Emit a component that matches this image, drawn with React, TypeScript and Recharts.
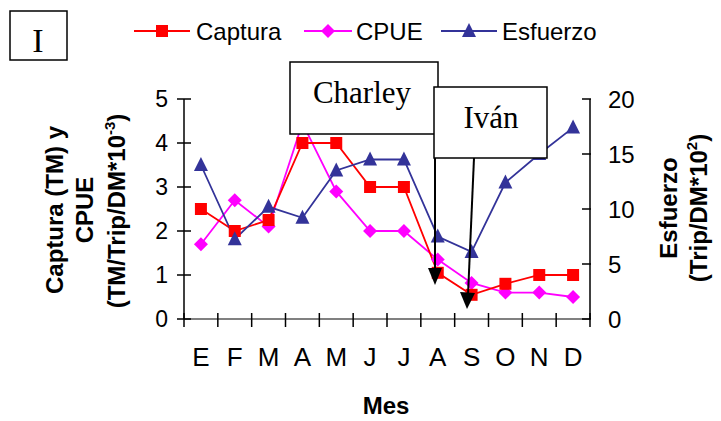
import { LineChart, Line, XAxis, YAxis, Legend } from "recharts"

const meses = ["E", "F", "M", "A", "M", "J", "J", "A", "S", "O", "N", "D"]
const captura = [2.5, 2.0, 2.25, 4.0, 4.0, 3.0, 3.0, 1.05, 0.55, 0.8, 1.0, 1.0]
const cpue = [1.7, 2.7, 2.1, 4.45, 2.9, 2.0, 2.0, 1.35, 0.82, 0.6, 0.6, 0.5]
const esfuerzo = [14.0, 7.25, 10.2, 9.2, 13.5, 14.5, 14.5, 7.5, 6.1, 12.4, 15.0, 17.4]
const leftTicks = [0, 1, 2, 3, 4, 5]
const rightTicks = [0, 5, 10, 15, 20]

const data = meses.map((mes, i) => ({
  mes,
  captura: captura[i],
  cpue: cpue[i],
  esfuerzo: esfuerzo[i],
}))

const RED = "#ff0000"
const MAGENTA = "#ff00ff"
const NAVY = "#333399"
const SANS = "'Liberation Sans', Arial, sans-serif"
const SERIF = "'Liberation Serif', 'Times New Roman', serif"

const BAND = 406 / 12

function Square({ cx, cy, fill }: any) {
  return <rect x={cx - 6} y={cy - 6} width={12} height={12} fill={fill} />
}

function Diamond({ cx, cy, fill }: any) {
  return <polygon points={`${cx},${cy - 7} ${cx + 7},${cy} ${cx},${cy + 7} ${cx - 7},${cy}`} fill={fill} />
}

function Triangle({ cx, cy, fill }: any) {
  return <polygon points={`${cx},${cy - 8} ${cx + 7},${cy + 6} ${cx - 7},${cy + 6}`} fill={fill} />
}

function MesTick({ x, payload, index }: any) {
  return (
    <g>
      <line x1={x - BAND / 2} x2={x - BAND / 2} y1={313} y2={327} stroke="#000" strokeWidth={1.5} />
      {index === meses.length - 1 && (
        <line x1={x + BAND / 2} x2={x + BAND / 2} y1={313} y2={327} stroke="#000" strokeWidth={1.5} />
      )}
      <text x={x} y={366} textAnchor="middle" fontSize={26} fontFamily={SANS} fill="#000">
        {payload.value}
      </text>
    </g>
  )
}

function LeftTick({ y, payload }: any) {
  return (
    <g>
      <line x1={177} x2={191} y1={y} y2={y} stroke="#000" strokeWidth={1.5} />
      <text x={168} y={y + 8} textAnchor="end" fontSize={23} fontFamily={SANS} fill="#000">
        {payload.value}
      </text>
    </g>
  )
}

function RightTick({ y, payload }: any) {
  return (
    <g>
      <line x1={582} x2={591} y1={y} y2={y} stroke="#000" strokeWidth={1.5} />
      <text x={608} y={y + 9} textAnchor="start" fontSize={24} fontFamily={SANS} fill="#000">
        {payload.value}
      </text>
    </g>
  )
}

const legendItems = [
  { name: "Captura", color: RED, Icon: Square, x1: 134, x2: 190, textX: 196 },
  { name: "CPUE", color: MAGENTA, Icon: Diamond, x1: 304, x2: 352, textX: 356 },
  { name: "Esfuerzo", color: NAVY, Icon: Triangle, x1: 441, x2: 497, textX: 502 },
]

function LegendRow() {
  return (
    <svg width={721} height={50} style={{ display: "block" }}>
      {legendItems.map((it) => (
        <g key={it.name}>
          <line x1={it.x1} x2={it.x2} y1={25} y2={25} stroke={it.color} strokeWidth={2} />
          <it.Icon cx={(it.x1 + it.x2) / 2} cy={25} fill={it.color} />
          <text x={it.textX} y={34} fontSize={24} fontFamily={SANS} fill="#000">
            {it.name}
          </text>
        </g>
      ))}
    </svg>
  )
}

export default function App() {
  return (
    <div style={{ position: "absolute", left: 0, top: 0, width: 721, height: 421, background: "#fff" }}>
      <LineChart
        width={721}
        height={421}
        data={data}
        margin={{ top: 99, right: 71, bottom: 72, left: 124 }}
      >
        <XAxis
          dataKey="mes"
          height={30}
          padding={{ left: BAND / 2, right: BAND / 2 }}
          axisLine={{ stroke: "#808080", strokeWidth: 2 }}
          tickLine={false}
          tick={MesTick}
          interval={0}
        />
        <YAxis
          yAxisId="left"
          width={60}
          domain={[0, 5]}
          ticks={leftTicks}
          axisLine={{ stroke: "#000", strokeWidth: 1.5 }}
          tickLine={false}
          tick={LeftTick}
        />
        <YAxis
          yAxisId="right"
          orientation="right"
          width={60}
          domain={[0, 20]}
          ticks={rightTicks}
          axisLine={{ stroke: "#000", strokeWidth: 1.5 }}
          tickLine={false}
          tick={RightTick}
        />
        <Legend
          layout="horizontal"
          verticalAlign="middle"
          align="center"
          content={() => <LegendRow />}
          wrapperStyle={{ top: 6, left: 0, width: 721 }}
        />
        <Line
          yAxisId="left"
          dataKey="cpue"
          name="CPUE"
          stroke={MAGENTA}
          strokeWidth={1.8}
          isAnimationActive={false}
          dot={(p: any) => <Diamond key={`cp-${p.index}`} cx={p.cx} cy={p.cy} fill={MAGENTA} />}
        />
        <Line
          yAxisId="left"
          dataKey="captura"
          name="Captura"
          stroke={RED}
          strokeWidth={1.8}
          isAnimationActive={false}
          dot={(p: any) => <Square key={`ca-${p.index}`} cx={p.cx} cy={p.cy} fill={RED} />}
        />
        <Line
          yAxisId="right"
          dataKey="esfuerzo"
          name="Esfuerzo"
          stroke={NAVY}
          strokeWidth={1.8}
          isAnimationActive={false}
          dot={(p: any) => <Triangle key={`es-${p.index}`} cx={p.cx} cy={p.cy} fill={NAVY} />}
        />
      </LineChart>
      <svg
        width={721}
        height={421}
        style={{ position: "absolute", left: 0, top: 0, pointerEvents: "none" }}
      >
        <rect x={10} y={11} width={57} height={49} fill="#fff" stroke="#000" strokeWidth={1.5} />
        <text x={38} y={52} textAnchor="middle" fontSize={34} fontFamily={SERIF}>I</text>

        <g fontFamily={SANS} fontWeight="bold" fontSize={24} textAnchor="middle">
          <text transform="translate(63,210) rotate(-90)">Captura (TM) y</text>
          <text transform="translate(93,210) rotate(-90)">CPUE</text>
          <text transform="translate(125,211) rotate(-90)">
            (TM/Trip/DM*10<tspan fontSize={15} dy={-10}>-3</tspan><tspan dy={10}>)</tspan>
          </text>
          <text transform="translate(677,208) rotate(-90)">Esfuerzo</text>
          <text transform="translate(707,208) rotate(-90)">
            (Trip/DM*10<tspan fontSize={15} dy={-10}>2</tspan><tspan dy={10}>)</tspan>
          </text>
          <text x={386} y={414}>Mes</text>
        </g>

        <rect x={290} y={62} width={148} height={72} fill="#fff" stroke="#000" strokeWidth={1.5} />
        <text x={362} y={103} textAnchor="middle" fontSize={31} fontFamily={SERIF}>Charley</text>
        <line x1={435} y1={134} x2={435} y2={272} stroke="#000" strokeWidth={2} />
        <polygon points="428,268 442,268 435,285" fill="#000" />

        <rect x={434} y={87} width={113} height={71} fill="#fff" stroke="#000" strokeWidth={1.5} />
        <text x={491} y={128} textAnchor="middle" fontSize={31} fontFamily={SERIF}>Iván</text>
        <line x1={474} y1={158} x2={468} y2={295} stroke="#000" strokeWidth={2} />
        <polygon points="460,292 475,293 467,309" fill="#000" />
      </svg>
    </div>
  )
}
